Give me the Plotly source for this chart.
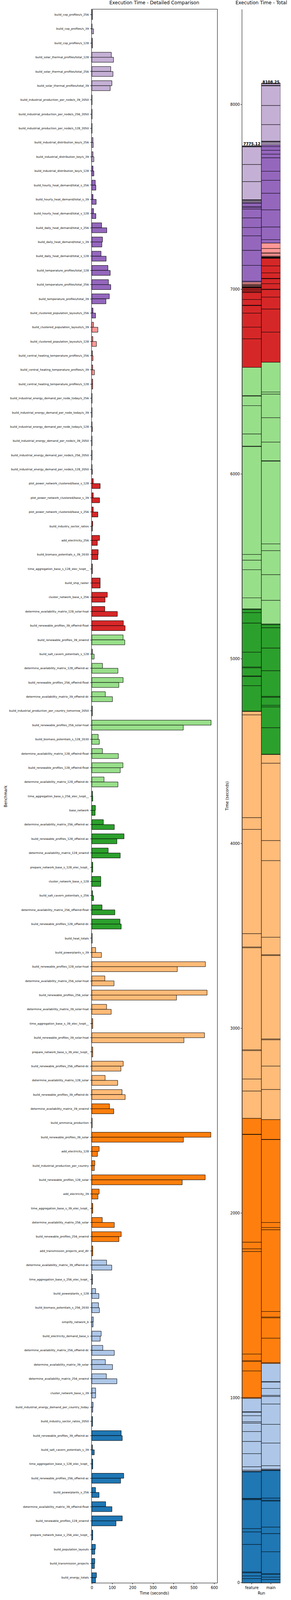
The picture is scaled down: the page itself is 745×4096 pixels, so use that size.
import numpy as np
import plotly.graph_objects as go

# ---------------- data (listed top-to-bottom as drawn) ----------------
benchmarks = [
    "build_cop_profiles/s_256", "build_cop_profiles/s_39", "build_cop_profiles/s_128",
    "build_solar_thermal_profiles/total_128", "build_solar_thermal_profiles/total_256",
    "build_solar_thermal_profiles/total_39",
    "build_industrial_production_per_node/s_39_2050", "build_industrial_production_per_node/s_256_2050",
    "build_industrial_production_per_node/s_128_2050",
    "build_industrial_distribution_key/s_256", "build_industrial_distribution_key/s_39",
    "build_industrial_distribution_key/s_128",
    "build_hourly_heat_demand/total_s_256", "build_hourly_heat_demand/total_s_39",
    "build_hourly_heat_demand/total_s_128",
    "build_daily_heat_demand/total_s_256", "build_daily_heat_demand/total_s_39",
    "build_daily_heat_demand/total_s_128",
    "build_temperature_profiles/total_128", "build_temperature_profiles/total_256",
    "build_temperature_profiles/total_39",
    "build_clustered_population_layouts/s_256", "build_clustered_population_layouts/s_39",
    "build_clustered_population_layouts/s_128",
    "build_central_heating_temperature_profiles/s_256", "build_central_heating_temperature_profiles/s_39",
    "build_central_heating_temperature_profiles/s_128",
    "build_industrial_energy_demand_per_node_today/s_256", "build_industrial_energy_demand_per_node_today/s_39",
    "build_industrial_energy_demand_per_node_today/s_128",
    "build_industrial_energy_demand_per_node/s_39_2050", "build_industrial_energy_demand_per_node/s_256_2050",
    "build_industrial_energy_demand_per_node/s_128_2050",
    "plot_power_network_clustered/base_s_128", "plot_power_network_clustered/base_s_39",
    "plot_power_network_clustered/base_s_256",
    "build_industry_sector_ratios", "add_electricity_256", "build_biomass_potentials_s_39_2030",
    "time_aggregation_base_s_128_elec_lvopt__", "build_ship_raster", "cluster_network_base_s_256",
    "determine_availability_matrix_128_solar-hsat", "build_renewable_profiles_39_offwind-float",
    "build_renewable_profiles_39_onwind", "build_salt_cavern_potentials_s_128",
    "determine_availability_matrix_128_offwind-ac", "build_renewable_profiles_256_offwind-float",
    "determine_availability_matrix_39_offwind-dc", "build_industrial_production_per_country_tomorrow_2050",
    "build_renewable_profiles_256_solar-hsat", "build_biomass_potentials_s_128_2030",
    "determine_availability_matrix_128_offwind-float", "build_renewable_profiles_128_offwind-float",
    "determine_availability_matrix_128_offwind-dc", "time_aggregation_base_s_256_elec_lvopt__",
    "base_network", "determine_availability_matrix_256_offwind-ac", "build_renewable_profiles_128_offwind-ac",
    "determine_availability_matrix_128_onwind", "prepare_network_base_s_128_elec_lvopt_",
    "cluster_network_base_s_128", "build_salt_cavern_potentials_s_256",
    "determine_availability_matrix_256_offwind-float", "build_renewable_profiles_128_offwind-dc",
    "build_heat_totals", "build_powerplants_s_39", "build_renewable_profiles_128_solar-hsat",
    "determine_availability_matrix_256_solar-hsat", "build_renewable_profiles_256_solar",
    "determine_availability_matrix_39_solar-hsat", "time_aggregation_base_s_39_elec_lvopt__",
    "build_renewable_profiles_39_solar-hsat", "prepare_network_base_s_39_elec_lvopt_",
    "build_renewable_profiles_256_offwind-dc", "determine_availability_matrix_128_solar",
    "build_renewable_profiles_39_offwind-dc", "determine_availability_matrix_39_onwind",
    "build_ammonia_production", "build_renewable_profiles_39_solar", "add_electricity_128",
    "build_industrial_production_per_country", "build_renewable_profiles_128_solar", "add_electricity_39",
    "time_aggregation_base_s_39_elec_lvopt_", "determine_availability_matrix_256_solar",
    "build_renewable_profiles_256_onwind", "add_transmission_projects_and_dlr",
    "determine_availability_matrix_39_offwind-ac", "time_aggregation_base_s_256_elec_lvopt_",
    "build_powerplants_s_128", "build_biomass_potentials_s_256_2030", "simplify_network_b",
    "build_electricity_demand_base_s", "determine_availability_matrix_256_offwind-dc",
    "determine_availability_matrix_39_solar", "determine_availability_matrix_256_onwind",
    "cluster_network_base_s_39", "build_industrial_energy_demand_per_country_today",
    "build_industry_sector_ratios_2050", "build_renewable_profiles_39_offwind-ac",
    "build_salt_cavern_potentials_s_39", "time_aggregation_base_s_128_elec_lvopt_",
    "build_renewable_profiles_256_offwind-ac", "build_powerplants_s_256",
    "determine_availability_matrix_39_offwind-float", "build_renewable_profiles_128_onwind",
    "prepare_network_base_s_256_elec_lvopt_", "build_population_layouts",
    "build_transmission_projects", "build_energy_totals",
]

feature_times = [
    2.5, 1.0, 2.3, 95.4, 92.6, 98.2, 1.0, 1.0, 1.0, 5.6, 5.6,
    5.6, 16.8, 5.6, 8.4, 47.7, 52.0, 45.0, 78.6, 81.4, 85.6, 5.6,
    8.4, 5.1, 2.3, 4.2, 4.2, 1.0, 1.0, 1.0, 1.0, 1.0, 1.0,
    7.0, 7.0, 7.0, 4.2, 37.9, 30.9, 2.3, 40.7, 75.8, 63.2, 154.4,
    153.0, 2.3, 52.0, 153.0, 66.0, 2.3, 583.9, 30.9, 51.7, 152.3, 59.6,
    3.3, 17.2, 56.3, 157.6, 80.0, 4.6, 43.7, 3.3, 49.7, 137.7, 1.5,
    18.5, 556.3, 63.6, 564.2, 72.2, 4.6, 551.7, 4.6, 153.6, 64.9, 147.7,
    86.1, 1.5, 582.8, 35.8, 14.6, 555.0, 35.8, 4.6, 51.0, 143.7, 4.6,
    72.2, 3.3, 18.5, 32.5, 7.3, 45.7, 53.6, 66.2, 70.9, 18.5, 6.0,
    3.3, 143.5, 2.7, 4.5, 156.1, 18.0, 67.7, 148.9, 4.5, 17.1, 14.4, 22.6,
]

main_times = [
    3.0, 8.4, 3.0, 106.2, 103.4, 89.8, 1.0, 1.0, 1.0, 7.0, 9.8,
    9.8, 19.6, 21.0, 19.6, 73.0, 49.0, 70.0, 89.8, 92.6, 68.8, 18.2,
    29.5, 22.5, 5.6, 12.6, 4.2, 1.0, 1.0, 2.3, 1.0, 1.0, 2.3,
    40.7, 37.9, 29.5, 2.3, 26.7, 29.5, 2.3, 40.7, 64.6, 124.9, 162.8,
    161.4, 11.2, 127.7, 132.0, 101.0, 2.3, 447.7, 36.5, 129.8, 139.0, 127.8,
    4.6, 15.9, 110.0, 122.5, 139.0, 4.6, 43.7, 8.6, 112.6, 143.7, 1.5,
    47.0, 418.5, 108.6, 414.6, 94.7, 4.6, 451.0, 4.6, 142.4, 126.5, 162.9,
    107.3, 1.5, 448.3, 27.2, 11.9, 442.4, 29.8, 4.6, 110.0, 132.5, 4.6,
    97.4, 3.3, 34.4, 37.1, 6.0, 41.0, 110.0, 101.3, 122.5, 18.5, 4.6,
    3.3, 148.9, 11.7, 4.5, 140.8, 35.2, 98.4, 118.2, 4.5, 14.4, 12.6, 18.0,
]

run_labels = ["feature", "main"]
run_totals = [7775.12, 8108.25]
x_ticks = [0, 100, 200, 300, 400, 500, 600]
total_ticks = [0, 1000, 2000, 3000, 4000, 5000, 6000, 7000, 8000]

# ---------------- styling / layout helpers ----------------
W, H = 745, 4096
RW, RH = 1008.0, 5540.0          # reference size
FONT = "DejaVu Sans"

def px(x):
    return x / RW

def py(y):
    return 1 - y / RH

tab20 = ["#1f77b4", "#aec7e8", "#ff7f0e", "#ffbb78", "#2ca02c",
         "#98df8a", "#d62728", "#ff9896", "#9467bd", "#c5b0d5"]

# bottom-up order (index 0 at the bottom of the chart)
names = benchmarks[::-1]
feat = np.array(feature_times[::-1])
main = np.array(main_times[::-1])
n = len(names)
pos = np.arange(n)
colors = [tab20[(k * 10) // n] for k in range(n)]

left_dom_x = [px(316.3), px(752.8)]
right_dom_x = [px(841), px(974)]
dom_y = [py(5487), py(33)]

bar_h = 0.35
fig = go.Figure()

fig.add_trace(go.Bar(
    y=pos, x=feat, orientation="h", width=bar_h, offset=0, base=0,
    marker=dict(color=colors, line=dict(color="black", width=1.0)),
    name=run_labels[0], xaxis="x", yaxis="y", showlegend=False,
))
fig.add_trace(go.Bar(
    y=pos, x=main, orientation="h", width=bar_h, offset=-bar_h, base=0,
    marker=dict(color=colors, line=dict(color="black", width=1.0)),
    name=run_labels[1], xaxis="x", yaxis="y", showlegend=False,
))

for run, vals in zip(run_labels, [feat, main]):
    bases = np.concatenate([[0.0], np.cumsum(vals)[:-1]])
    fig.add_trace(go.Bar(
        x=[run] * n, y=vals, base=bases, width=1.0,
        marker=dict(color=colors, line=dict(color="black", width=0.9)),
        xaxis="x2", yaxis="y2", showlegend=False,
    ))

tick_font = dict(family=FONT, size=9.6, color="black")
label_font = dict(family=FONT, size=9.8, color="black")
title_font = dict(family=FONT, size=12.0, color="black")

tick_style = dict(ticks="outside", ticklen=3.6, tickwidth=0.8, tickcolor="black",
                  showgrid=False, zeroline=False)
box = dict(showline=True, linecolor="black", linewidth=0.8, mirror=True, **tick_style)
open_axis = dict(showline=True, linecolor="black", linewidth=0.8, mirror=False, **tick_style)

fig.update_layout(
    width=W, height=H,
    margin=dict(l=0, r=0, t=0, b=0),
    paper_bgcolor="white", plot_bgcolor="white",
    barmode="overlay",
    xaxis=dict(domain=left_dom_x, anchor="y", range=[0, max(feat.max(), main.max()) * 1.05],
               tickvals=x_ticks, tickfont=tick_font, **box),
    yaxis=dict(domain=dom_y, anchor="x", range=[-bar_h - 0.005, n - 1 + bar_h + 0.01],
               tickvals=pos, ticktext=names, tickfont=dict(family=FONT, size=7.2, color="black"),
               ticklabelstandoff=2, **box),
    xaxis2=dict(domain=right_dom_x, anchor="y2", type="category", range=[-0.5, 1.5],
                categoryorder="array", categoryarray=run_labels, tickfont=tick_font, **open_axis),
    yaxis2=dict(domain=dom_y, anchor="x2", range=[0, max(run_totals) * 1.05],
                tickvals=total_ticks, tickfont=tick_font, **open_axis),
    font=dict(family=FONT, color="black"),
)

ann = []
ann.append(dict(text="Execution Time - Detailed Comparison", x=(left_dom_x[0] + left_dom_x[1]) / 2,
                y=py(22), xref="paper", yref="paper", xanchor="center", yanchor="bottom",
                showarrow=False, font=title_font))
ann.append(dict(text="Execution Time - Total", x=(right_dom_x[0] + right_dom_x[1]) / 2,
                y=py(22), xref="paper", yref="paper", xanchor="center", yanchor="bottom",
                showarrow=False, font=title_font))
ann.append(dict(text="Time (seconds)", x=(left_dom_x[0] + left_dom_x[1]) / 2, y=py(5523),
                xref="paper", yref="paper", xanchor="center", yanchor="middle",
                showarrow=False, font=label_font))
ann.append(dict(text="Run", x=(right_dom_x[0] + right_dom_x[1]) / 2, y=py(5523),
                xref="paper", yref="paper", xanchor="center", yanchor="middle",
                showarrow=False, font=label_font))
ann.append(dict(text="Benchmark", x=px(15.6), y=(dom_y[0] + dom_y[1]) / 2, textangle=-90,
                xref="paper", yref="paper", xanchor="center", yanchor="middle",
                showarrow=False, font=label_font))
ann.append(dict(text="Time (seconds)", x=px(787), y=(dom_y[0] + dom_y[1]) / 2, textangle=-90,
                xref="paper", yref="paper", xanchor="center", yanchor="middle",
                showarrow=False, font=label_font))
for run, tot in zip(run_labels, run_totals):
    ann.append(dict(text=f"{tot:.2f}", x=run, y=tot, xref="x2", yref="y2",
                    xanchor="center", yanchor="bottom", showarrow=False, yshift=-2,
                    font=dict(family=FONT, size=9.6, color="black", weight="bold")))
fig.update_layout(annotations=ann)

# remove the browser's default page margin so the figure sits at the window origin
fig.write_html(
    "out.html",
    config={"displayModeBar": False},
    post_script="document.body.style.margin='0';document.body.style.padding='0';"
                "document.documentElement.style.overflow='hidden';",
)
